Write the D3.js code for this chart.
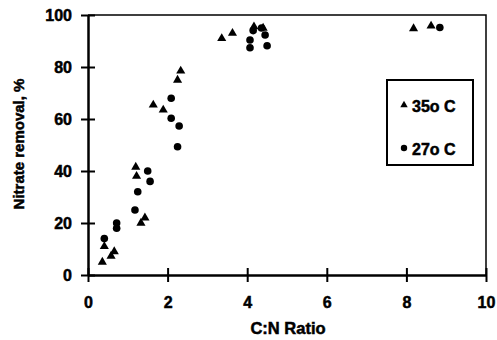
<!DOCTYPE html>
<html>
<head>
<meta charset="utf-8">
<script src="https://cdn.jsdelivr.net/npm/d3@7"></script>
<style>
  body { margin: 0; background: #fff; }
  svg text { font-family: "Liberation Sans", Arial, sans-serif; font-weight: 700; fill: #000; stroke: #000; stroke-width: 0.5px; }
</style>
</head>
<body>
<div id="chart"></div>
<script>
// C:N ratio vs nitrate removal (%)
const tri35 = [
  [0.36, 5], [0.58, 7.3], [0.66, 9], [0.41, 11],
  [1.2, 41.5], [1.22, 38], [1.33, 20], [1.43, 22],
  [1.64, 65.4], [1.89, 63.5], [2.25, 75], [2.33, 78.5],
  [3.36, 91], [3.63, 93], [4.17, 95.5], [4.4, 95],
  [8.18, 94.8], [8.62, 95.8]
];
const circ27 = [
  [0.41, 14], [0.72, 20], [0.72, 18], [1.18, 25], [1.25, 32],
  [1.5, 40], [1.56, 36], [2.09, 68], [2.09, 60.3], [2.29, 57.3],
  [2.25, 49.3], [4.07, 90.4], [4.07, 87.4], [4.15, 94], [4.36, 95],
  [4.45, 92.3], [4.5, 88.2], [8.84, 95.2]
];
const xTicks = [0, 2, 4, 6, 8, 10];
const yTicks = [0, 20, 40, 60, 80, 100];
const legendLabels = ["35o C", "27o C"];

let width = 497;
let height = 340;
let margin = ({top: 15, right: 11, bottom: 65, left: 88});

let x = d3.scaleLinear()
  .domain([0, 10])
  .range([margin.left, width - margin.right]);

let y = d3.scaleLinear()
  .domain([0, 100])
  .range([height - margin.bottom, margin.top]);

const svg = d3.select("#chart").append("svg")
  .attr("width", width)
  .attr("height", height);

// frame (top + right)
svg.append("path")
  .attr("d", `M${x(0)},${y(100)}H${x(10)}V${y(0)}`)
  .attr("fill", "none")
  .attr("stroke", "#000")
  .attr("stroke-width", 1.5);

let xAxis = g => g
  .attr("transform", `translate(0,${y(0)})`)
  .call(d3.axisBottom(x).tickValues(xTicks).tickSize(7).tickSizeOuter(0).tickPadding(15))
  .call(g => g.select(".domain").attr("stroke-width", 2.5))
  .call(g => g.selectAll(".tick line").attr("y1", -7).attr("stroke-width", 2));

let yAxis = g => g
  .attr("transform", `translate(${x(0)},0)`)
  .call(d3.axisLeft(y).tickValues(yTicks).tickSize(7).tickSizeOuter(0).tickPadding(9))
  .call(g => g.select(".domain").attr("stroke-width", 2.5))
  .call(g => g.selectAll(".tick line").attr("x1", 7).attr("stroke-width", 2));

svg.append("g").call(xAxis).attr("font-family", null).attr("font-size", 16);
svg.append("g").call(yAxis).attr("font-family", null).attr("font-size", 16);

svg.append("text")
  .attr("x", 288)
  .attr("y", 334)
  .attr("text-anchor", "middle")
  .attr("font-size", 16.5)
  .text("C:N Ratio");

svg.append("text")
  .attr("transform", `translate(24,144) rotate(-90)`)
  .attr("text-anchor", "middle")
  .attr("font-size", 15)
  .text("Nitrate removal, %");

const triangle = d3.symbol().type(d3.symbolTriangle).size(36);

svg.append("g")
  .selectAll("path")
  .data(tri35)
  .join("path")
    .attr("d", triangle)
    .attr("transform", d => `translate(${x(d[0])},${y(d[1])})`)
    .attr("fill", "#000");

svg.append("g")
  .selectAll("circle")
  .data(circ27)
  .join("circle")
    .attr("cx", d => x(d[0]))
    .attr("cy", d => y(d[1]))
    .attr("r", 3.8)
    .attr("fill", "#000");

// legend
const legend = svg.append("g");
legend.append("rect")
  .attr("x", 387).attr("y", 80)
  .attr("width", 86).attr("height", 85)
  .attr("fill", "#fff")
  .attr("stroke", "#000")
  .attr("stroke-width", 2);
legend.append("path")
  .attr("d", d3.symbol().type(d3.symbolTriangle).size(24))
  .attr("transform", "translate(404,105)");
legend.append("circle")
  .attr("cx", 404).attr("cy", 148).attr("r", 3.2);
legend.selectAll("text")
  .data(legendLabels)
  .join("text")
    .attr("x", 412)
    .attr("y", (d, i) => 106 + i * 43)
    .attr("dy", "0.35em")
    .attr("font-size", 16)
    .text(d => d);
</script>
</body>
</html>
